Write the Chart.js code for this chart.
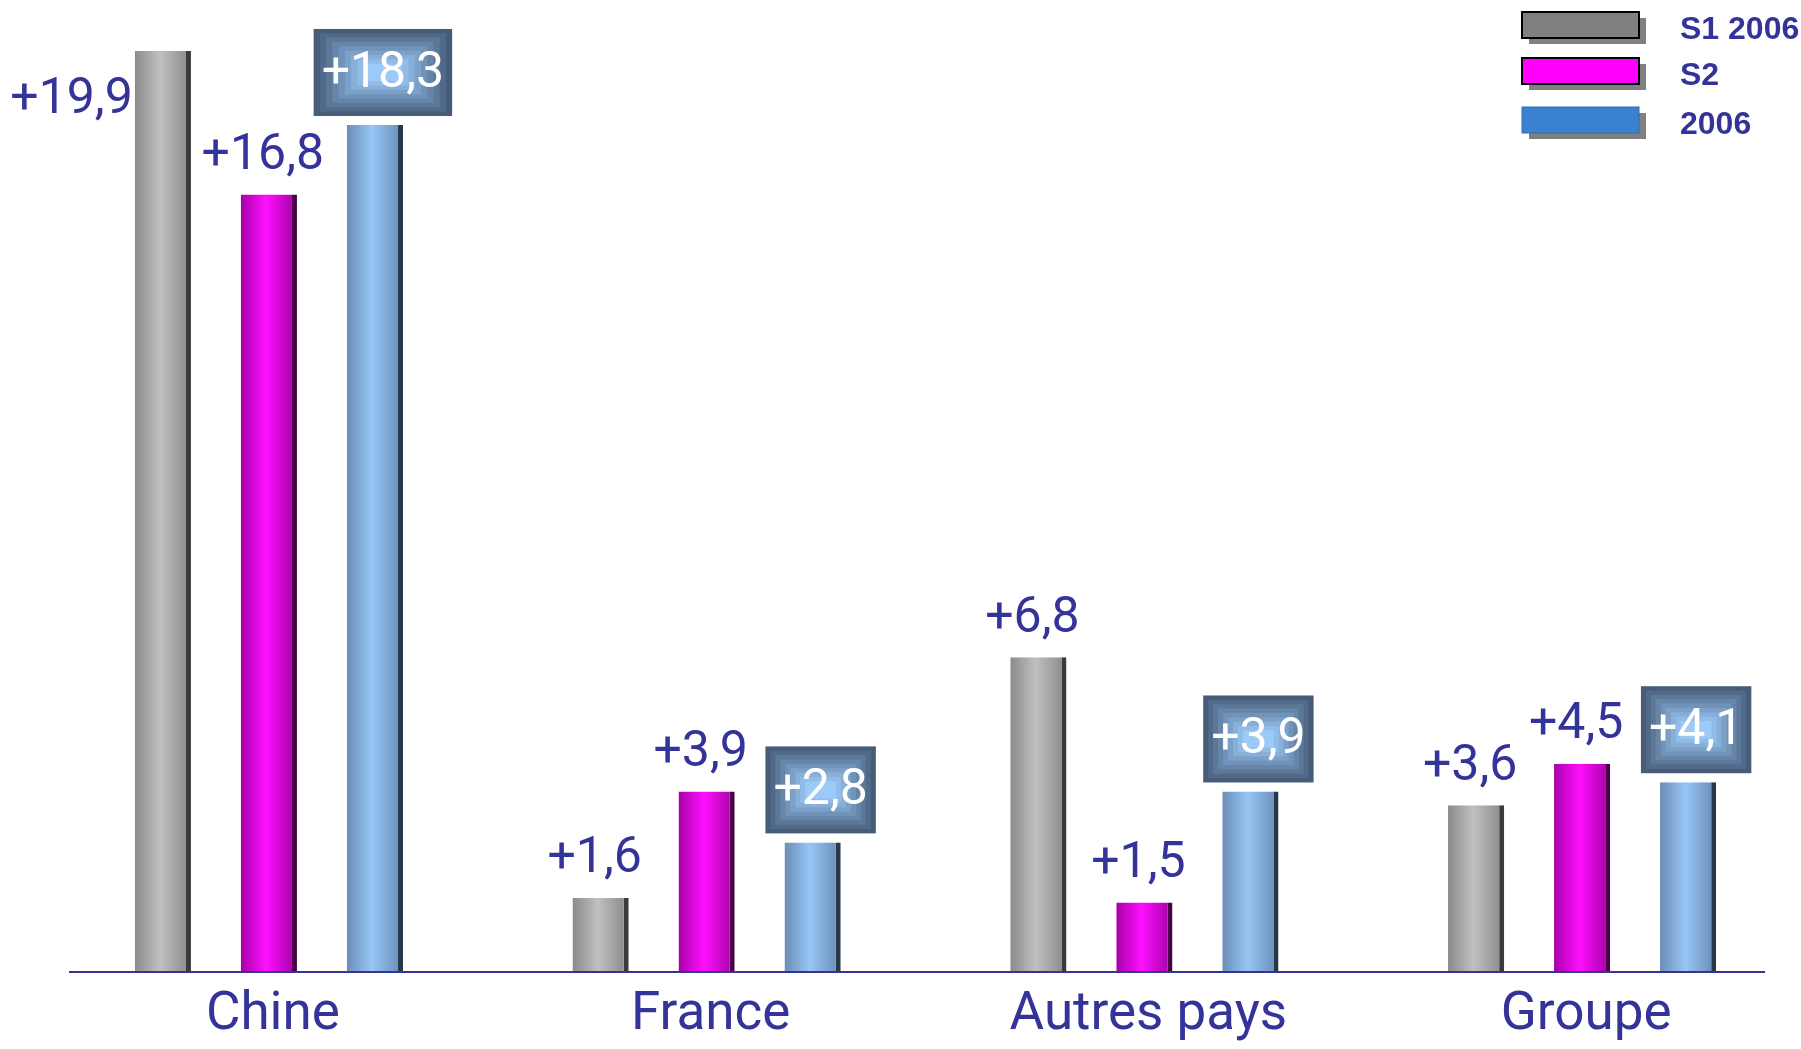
<!DOCTYPE html>
<html>
<head>
<meta charset="utf-8">
<script src="https://cdn.jsdelivr.net/npm/chart.js@4"></script>
<style>
  html, body { margin: 0; padding: 0; background: #fff; }
  #wrap { width: 1801px; height: 1049px; }
</style>
</head>
<body>
<div id="wrap"><canvas id="chart"></canvas></div>
<script>
// chart data
const categories = ['Chine', 'France', 'Autres pays', 'Groupe'];
const seriesNames = ['S1 2006', 'S2', '2006'];
const s1Values = [19.9, 1.6, 6.8, 3.6];
const s2Values = [16.8, 3.9, 1.5, 4.5];
const yearValues = [18.3, 2.8, 3.9, 4.1];
const valueLabels = [
  ['+19,9', '+1,6', '+6,8', '+3,6'],
  ['+16,8', '+3,9', '+1,5', '+4,5'],
  ['+18,3', '+2,8', '+3,9', '+4,1']
];

const navy = '#333399';

// bar gradient stops: edge, centre, edge
const barShades = [
  ['#8a8a8a', '#c0c0c0', '#868686'],
  ['#a600a6', '#ff10ff', '#a000a0'],
  ['#6a8db6', '#98c6f6', '#6688b1']
];
const legendSwatches = [
  { fill: '#808080', stroke: '#000000', lw: 2 },
  { fill: '#ff00ff', stroke: '#000000', lw: 2 },
  { fill: '#3a82d0', stroke: '#2e6cb0', lw: 1 }
];

function mix(a, b, t) {
  const pa = [1, 3, 5].map(i => parseInt(a.substr(i, 2), 16));
  const pb = [1, 3, 5].map(i => parseInt(b.substr(i, 2), 16));
  return 'rgb(' + pa.map((v, i) => Math.round(v + (pb[i] - v) * t)).join(',') + ')';
}

const decorPlugin = {
  id: 'decor',
  beforeDatasetsDraw(chart) {
    const ctx = chart.ctx;
    chart.data.datasets.forEach((ds, di) => {
      const meta = chart.getDatasetMeta(di);
      meta.data.forEach(el => {
        const { x, width } = el.getProps(['x', 'width'], true);
        const g = ctx.createLinearGradient(x - width / 2, 0, x + width / 2, 0);
        g.addColorStop(0, barShades[di][0]);
        g.addColorStop(0.45, barShades[di][1]);
        g.addColorStop(1, barShades[di][2]);
        el.options = Object.assign({}, el.options, { backgroundColor: g });
      });
    });
  },
  afterDatasetsDraw(chart) {
    const ctx = chart.ctx;
    const area = chart.chartArea;
    ctx.save();

    // base line
    ctx.strokeStyle = navy;
    ctx.lineWidth = 2;
    ctx.beginPath();
    ctx.moveTo(area.left + 19, area.bottom);
    ctx.lineTo(area.right - 36, area.bottom);
    ctx.stroke();

    // value labels
    ctx.font = '50px Roboto';
    ctx.textBaseline = 'middle';
    chart.data.datasets.forEach((ds, di) => {
      const meta = chart.getDatasetMeta(di);
      meta.data.forEach((el, i) => {
        const { x, y, width } = el.getProps(['x', 'y', 'width'], true);
        const txt = valueLabels[di][i];
        if (di < 2) {
          ctx.fillStyle = navy;
          if (y - 62 < area.top) {
            ctx.textAlign = 'right';
            ctx.fillText(txt, x - width / 2 - 2, y + 50);
          } else {
            ctx.textAlign = 'center';
            ctx.fillText(txt, x - 6, y - 38);
          }
        } else {
          const tw = ctx.measureText(txt).width;
          const bw = tw + 16, bh = 87;
          const bx = x + 8 - bw / 2, by = y - 9 - bh;
          const steps = 9;
          for (let s = 0; s < steps; s++) {
            const ix = s * bw * 0.045, iy = s * bh * 0.05;
            ctx.fillStyle = mix('#465c79', '#9ccaf8', s / (steps - 1));
            ctx.fillRect(bx + ix, by + iy, bw - 2 * ix, bh - 2 * iy);
          }
          ctx.fillStyle = '#ffffff';
          ctx.textAlign = 'center';
          ctx.fillText(txt, bx + bw / 2, by + bh / 2 + 2);
        }
      });
    });

    // legend
    const lx = 1522, lw = 117, lh = 26;
    const rows = [12, 58, 107];
    ctx.font = 'bold 32px "Liberation Sans"';
    ctx.textAlign = 'left';
    seriesNames.forEach((name, i) => {
      const sw = legendSwatches[i];
      ctx.fillStyle = '#808080';
      ctx.fillRect(lx + 7, rows[i] + 6, lw, lh);
      ctx.fillStyle = sw.fill;
      ctx.fillRect(lx, rows[i], lw, lh);
      ctx.strokeStyle = sw.stroke;
      ctx.lineWidth = sw.lw;
      ctx.strokeRect(lx, rows[i], lw, lh);
      ctx.fillStyle = navy;
      ctx.fillText(name, 1680, rows[i] + 18);
    });
    ctx.restore();
  }
};

const ctx = document.getElementById('chart').getContext('2d');
new Chart(ctx, {
  type: 'bar',
  data: {
    labels: categories,
    datasets: [
      { label: seriesNames[0], data: s1Values, borderColor: '#3a3a3a' },
      { label: seriesNames[1], data: s2Values, borderColor: '#4a0046' },
      { label: seriesNames[2], data: yearValues, borderColor: '#26384a' }
    ]
  },
  options: {
    responsive: true,
    maintainAspectRatio: false,
    animation: false,
    layout: { padding: { left: 50, right: 0, top: 0, bottom: 0 } },
    datasets: {
      bar: {
        categoryPercentage: 0.7265,
        barPercentage: 0.53,
        borderWidth: { top: 0, right: 5, bottom: 0, left: 0 },
        borderSkipped: false
      }
    },
    plugins: {
      legend: { display: false },
      tooltip: { enabled: false }
    },
    scales: {
      x: {
        grid: { display: false, drawTicks: false },
        border: { display: false },
        ticks: {
          color: navy,
          font: { family: 'Roboto', size: 53 },
          padding: 12,
          labelOffset: 4
        },
        afterFit(scale) { scale.height = 77; }
      },
      y: {
        display: false,
        min: 0,
        max: 21
      }
    }
  },
  plugins: [decorPlugin]
});
</script>
</body>
</html>
